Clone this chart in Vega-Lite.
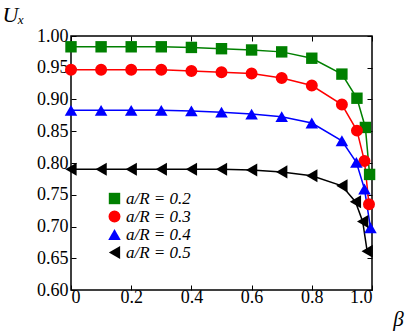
{
  "$schema": "https://vega.github.io/schema/vega-lite/v6.json",
  "autosize": "none",
  "width": 301,
  "height": 254,
  "padding": {"left": 71, "top": 36, "right": 35, "bottom": 43},
  "background": "white",
  "config": {
    "view": {"stroke": "black", "strokeWidth": 1.5},
    "axis": {
      "domain": false,
      "grid": false,
      "labelFont": "Liberation Serif",
      "labelFontSize": 18,
      "labelColor": "black",
      "tickColor": "black",
      "tickSize": -5,
      "tickWidth": 1,
      "titleFont": "Liberation Serif",
      "titleFontStyle": "italic",
      "titleFontWeight": "normal",
      "titleColor": "black"
    },
    "legend": {
      "labelFont": "Liberation Serif",
      "labelFontSize": 17,
      "labelFontStyle": "italic",
      "labelColor": "black",
      "symbolStrokeWidth": 0
    }
  },
  "data": {
    "values": [
      {"series": "a/R = 0.2", "beta": 0.0, "U": 0.983},
      {"series": "a/R = 0.2", "beta": 0.1, "U": 0.983},
      {"series": "a/R = 0.2", "beta": 0.2, "U": 0.983},
      {"series": "a/R = 0.2", "beta": 0.3, "U": 0.983},
      {"series": "a/R = 0.2", "beta": 0.4, "U": 0.982},
      {"series": "a/R = 0.2", "beta": 0.5, "U": 0.980},
      {"series": "a/R = 0.2", "beta": 0.6, "U": 0.978},
      {"series": "a/R = 0.2", "beta": 0.7, "U": 0.975},
      {"series": "a/R = 0.2", "beta": 0.8, "U": 0.965},
      {"series": "a/R = 0.2", "beta": 0.9, "U": 0.940},
      {"series": "a/R = 0.2", "beta": 0.95, "U": 0.902},
      {"series": "a/R = 0.2", "beta": 0.978, "U": 0.856},
      {"series": "a/R = 0.2", "beta": 0.992, "U": 0.782},
      {"series": "a/R = 0.3", "beta": 0.0, "U": 0.947},
      {"series": "a/R = 0.3", "beta": 0.1, "U": 0.947},
      {"series": "a/R = 0.3", "beta": 0.2, "U": 0.947},
      {"series": "a/R = 0.3", "beta": 0.3, "U": 0.947},
      {"series": "a/R = 0.3", "beta": 0.4, "U": 0.945},
      {"series": "a/R = 0.3", "beta": 0.5, "U": 0.943},
      {"series": "a/R = 0.3", "beta": 0.6, "U": 0.941},
      {"series": "a/R = 0.3", "beta": 0.7, "U": 0.934},
      {"series": "a/R = 0.3", "beta": 0.8, "U": 0.922},
      {"series": "a/R = 0.3", "beta": 0.9, "U": 0.892},
      {"series": "a/R = 0.3", "beta": 0.95, "U": 0.851},
      {"series": "a/R = 0.3", "beta": 0.975, "U": 0.803},
      {"series": "a/R = 0.3", "beta": 0.99, "U": 0.735},
      {"series": "a/R = 0.4", "beta": 0.0, "U": 0.883},
      {"series": "a/R = 0.4", "beta": 0.1, "U": 0.883},
      {"series": "a/R = 0.4", "beta": 0.2, "U": 0.883},
      {"series": "a/R = 0.4", "beta": 0.3, "U": 0.883},
      {"series": "a/R = 0.4", "beta": 0.4, "U": 0.882},
      {"series": "a/R = 0.4", "beta": 0.5, "U": 0.880},
      {"series": "a/R = 0.4", "beta": 0.6, "U": 0.877},
      {"series": "a/R = 0.4", "beta": 0.7, "U": 0.873},
      {"series": "a/R = 0.4", "beta": 0.8, "U": 0.863},
      {"series": "a/R = 0.4", "beta": 0.9, "U": 0.835},
      {"series": "a/R = 0.4", "beta": 0.948, "U": 0.801},
      {"series": "a/R = 0.4", "beta": 0.975, "U": 0.759},
      {"series": "a/R = 0.4", "beta": 0.995, "U": 0.698},
      {"series": "a/R = 0.5", "beta": 0.0, "U": 0.790},
      {"series": "a/R = 0.5", "beta": 0.1, "U": 0.790},
      {"series": "a/R = 0.5", "beta": 0.2, "U": 0.790},
      {"series": "a/R = 0.5", "beta": 0.3, "U": 0.790},
      {"series": "a/R = 0.5", "beta": 0.4, "U": 0.790},
      {"series": "a/R = 0.5", "beta": 0.5, "U": 0.790},
      {"series": "a/R = 0.5", "beta": 0.6, "U": 0.789},
      {"series": "a/R = 0.5", "beta": 0.7, "U": 0.786},
      {"series": "a/R = 0.5", "beta": 0.8, "U": 0.780},
      {"series": "a/R = 0.5", "beta": 0.9, "U": 0.764},
      {"series": "a/R = 0.5", "beta": 0.945, "U": 0.739},
      {"series": "a/R = 0.5", "beta": 0.969, "U": 0.708},
      {"series": "a/R = 0.5", "beta": 0.984, "U": 0.661}
    ]
  },
  "resolve": {"axis": {"x": "independent", "y": "independent"}},
  "layer": [
    {
      "mark": {"type": "line", "strokeWidth": 1.5},
      "encoding": {
        "x": {
          "field": "beta", "type": "quantitative",
          "scale": {"domain": [0, 1], "nice": false, "zero": false},
          "axis": {
            "orient": "bottom",
            "values": [0, 0.2, 0.4, 0.6, 0.8, 1.0],
            "labelExpr": "datum.value == 0 ? '0' : format(datum.value, '.1f')",
            "labelFont": "Liberation Serif",
            "labelFontSize": 18,
            "labelPadding": 3,
            "title": "β",
            "titleFontSize": 21,
            "titleX": 327,
            "titleY": 35,
            "titleAlign": "center",
            "titleBaseline": "alphabetic"
          }
        },
        "y": {
          "field": "U", "type": "quantitative",
          "scale": {"domain": [0.6, 1.0], "nice": false, "zero": false},
          "axis": {
            "orient": "left",
            "values": [0.6, 0.65, 0.7, 0.75, 0.8, 0.85, 0.9, 0.95, 1.0],
            "format": ".2f",
            "labelFont": "Liberation Serif",
            "labelFontSize": 18,
            "labelPadding": 8,
            "title": "Uₓ",
            "titleFontSize": 22,
            "titleAngle": 0,
            "titleX": -58,
            "titleY": -15,
            "titleAlign": "center",
            "titleBaseline": "alphabetic"
          }
        },
        "color": {
          "field": "series", "type": "nominal",
          "scale": {"domain": ["a/R = 0.2", "a/R = 0.3", "a/R = 0.4", "a/R = 0.5"], "range": ["#008000", "#ff0000", "#0000ff", "#000000"]},
          "legend": {
            "title": null,
            "orient": "none",
            "legendX": 35,
            "legendY": 154,
            "rowPadding": 0,
            "labelOffset": 3,
            "padding": 0
          }
        }
      }
    },
    {
      "mark": {"type": "point", "filled": true, "opacity": 1},
      "encoding": {
        "x": {
          "field": "beta", "type": "quantitative",
          "axis": {"orient": "top", "values": [0, 0.2, 0.4, 0.6, 0.8, 1.0], "labels": false, "title": null}
        },
        "y": {
          "field": "U", "type": "quantitative",
          "axis": {"orient": "right", "values": [0.6, 0.65, 0.7, 0.75, 0.8, 0.85, 0.9, 0.95, 1.0], "labels": false, "title": null}
        },
        "color": {
          "field": "series", "type": "nominal",
          "legend": {
            "title": null,
            "orient": "none",
            "legendX": 35,
            "legendY": 154,
            "rowPadding": 0,
            "labelOffset": 3,
            "padding": 0
          }
        },
        "shape": {
          "field": "series", "type": "nominal",
          "scale": {"domain": ["a/R = 0.2", "a/R = 0.3", "a/R = 0.4", "a/R = 0.5"], "range": ["square", "circle", "triangle-up", "triangle-left"]},
          "legend": {
            "title": null,
            "orient": "none",
            "legendX": 35,
            "legendY": 154,
            "rowPadding": 0,
            "labelOffset": 3,
            "padding": 0
          }
        },
        "size": {
          "field": "series", "type": "nominal",
          "scale": {"domain": ["a/R = 0.2", "a/R = 0.3", "a/R = 0.4", "a/R = 0.5"], "range": [130, 170, 240, 240]},
          "legend": {
            "title": null,
            "orient": "none",
            "legendX": 35,
            "legendY": 154,
            "rowPadding": 0,
            "labelOffset": 3,
            "padding": 0
          }
        }
      }
    }
  ]
}
